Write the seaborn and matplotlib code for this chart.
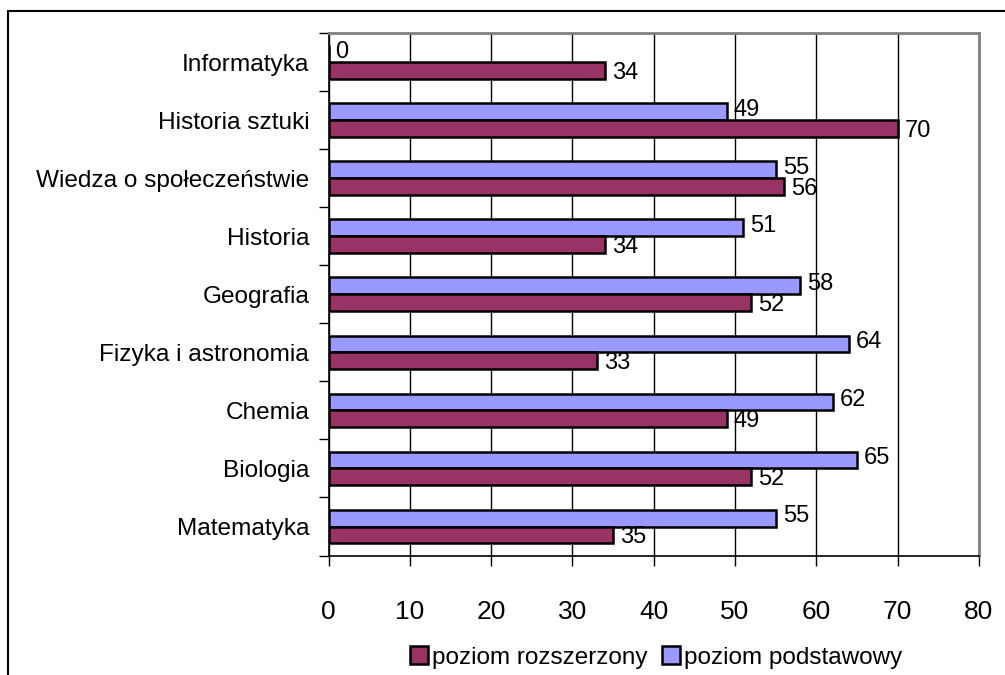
import matplotlib
matplotlib.use("Agg")
import matplotlib.pyplot as plt
from matplotlib.patches import Patch
from matplotlib.lines import Line2D
import pandas as pd
import seaborn as sns

# dane z wykresu
przedmioty = ["Informatyka", "Historia sztuki", "Wiedza o społeczeństwie",
              "Historia", "Geografia", "Fizyka i astronomia", "Chemia",
              "Biologia", "Matematyka"]
podstawowy = [0, 49, 55, 51, 58, 64, 62, 65, 55]
rozszerzony = [34, 70, 56, 34, 52, 33, 49, 52, 35]
poziomy = ["poziom podstawowy", "poziom rozszerzony"]
kolory = {"poziom podstawowy": "#9999FF", "poziom rozszerzony": "#993366"}

df = pd.DataFrame({
    "przedmiot": przedmioty * 2,
    "wynik": podstawowy + rozszerzony,
    "poziom": [poziomy[0]] * len(przedmioty) + [poziomy[1]] * len(przedmioty),
})

sns.set_style("white")
plt.rcParams["font.family"] = ["Liberation Sans", "DejaVu Sans"]
plt.rcParams["text.color"] = "black"
plt.rcParams["xtick.color"] = "black"
plt.rcParams["ytick.color"] = "black"

fig = plt.figure(figsize=(10.05, 6.75), dpi=100)
ax = fig.add_axes([0.327, 0.177, 0.647, 0.774])

sns.barplot(data=df, x="wynik", y="przedmiot", hue="poziom",
            order=przedmioty, hue_order=poziomy, palette=kolory,
            width=0.58, edgecolor="black", linewidth=1.8,
            orient="h", ax=ax, legend=False, saturation=1)

# etykiety wartości; górne lekko w górę, dolne lekko w dół jak w oryginale
for cont, dy in zip(ax.containers, [1.5, -1.5]):
    for t in ax.bar_label(cont, fmt="%g", padding=5, fontsize=17):
        t.xyann = (t.xyann[0], t.xyann[1] + dy)

ax.set_xlim(0, 80)
ax.set_ylim(len(przedmioty) - 0.5, -0.5)
ax.set_xticks(range(0, 81, 10))
ax.set_yticks([i - 0.5 for i in range(len(przedmioty) + 1)], minor=False)
ax.set_yticklabels([])
ax.set_yticks(range(len(przedmioty)), minor=True)
ax.set_yticklabels(przedmioty, minor=True, fontsize=17.6)
ax.tick_params(axis="y", which="minor", length=0, pad=14)
ax.tick_params(axis="y", which="major", length=7, width=1, color="black", left=True)
ax.tick_params(axis="x", length=7, width=1, color="black", bottom=True, labelsize=19, pad=25)
ax.set_xlabel("")
ax.set_ylabel("")
ax.xaxis.grid(True, color="black", linewidth=1)
ax.set_axisbelow(True)

for s in ["left", "bottom"]:
    ax.spines[s].set_color("black")
    ax.spines[s].set_linewidth(1.2)
for s in ["top", "right"]:
    ax.spines[s].set_color("#808080")
    ax.spines[s].set_linewidth(2)

uchwyty = [Patch(facecolor=kolory["poziom rozszerzony"], edgecolor="black", linewidth=1.8),
           Patch(facecolor=kolory["poziom podstawowy"], edgecolor="black", linewidth=1.8)]
fig.legend(uchwyty, ["poziom rozszerzony", "poziom podstawowy"],
           loc="center", bbox_to_anchor=(0.653, 0.026), ncol=2, frameon=False,
           fontsize=17.5, handlelength=0.75, handleheight=0.75,
           handletextpad=0.15, columnspacing=0.6)

# ramka wokół wykresu
fig.add_artist(Line2D([8 / 1005, 8 / 1005], [0, 1 - 11 / 675], color="black", linewidth=1.5))
fig.add_artist(Line2D([8 / 1005, 1], [1 - 11 / 675, 1 - 11 / 675], color="black", linewidth=1.5))

fig.savefig("out.png", dpi=100)
